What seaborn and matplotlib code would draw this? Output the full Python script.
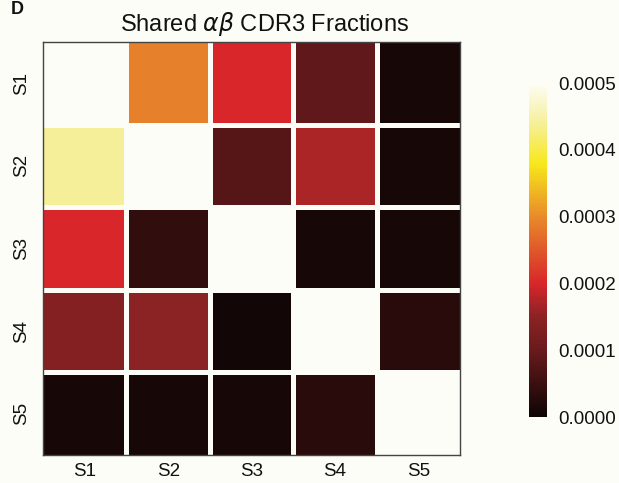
import numpy as np
import pandas as pd
import matplotlib
matplotlib.use("Agg")
import matplotlib.pyplot as plt
import seaborn as sns
from matplotlib.colors import LinearSegmentedColormap

samples = ["S1", "S2", "S3", "S4", "S5"]
row_S1 = [0.00050, 0.00029, 0.00020, 0.00009, 0.00001]
row_S2 = [0.00044, 0.00050, 0.00008, 0.00017, 0.00001]
row_S3 = [0.00020, 0.00004, 0.00050, 0.00001, 0.00001]
row_S4 = [0.00014, 0.00015, 0.000005, 0.00050, 0.00003]
row_S5 = [0.00001, 0.00001, 0.00001, 0.00003, 0.00050]
cbar_ticks = [0.0, 0.0001, 0.0002, 0.0003, 0.0004, 0.0005]

df = pd.DataFrame([row_S1, row_S2, row_S3, row_S4, row_S5], index=samples, columns=samples)

bg = "#fdfdf7"
cmap = LinearSegmentedColormap.from_list(
    "shared",
    [(0.0, "#0e0505"), (0.2, "#6a1a1c"), (0.3, "#8c2224"), (0.4, "#d8262a"),
     (0.6, "#e98a2a"), (0.76, "#f7e81c"), (0.88, "#f6ef98"), (1.0, bg)])

sns.set_style("white")
plt.rcParams['font.family'] = ['Liberation Sans', 'DejaVu Sans']
plt.rcParams['text.color'] = '#111111'
plt.rcParams['xtick.color'] = '#111111'
plt.rcParams['ytick.color'] = '#111111'
plt.rcParams['mathtext.fontset'] = 'dejavusans'

fig = plt.figure(figsize=(6.19, 4.83), dpi=100, facecolor=bg)
ax = fig.add_axes([0.0695, 0.058, 0.674, 0.855])
cax = fig.add_axes([0.855, 0.1366, 0.029, 0.6915])

sns.heatmap(df, ax=ax, cbar_ax=cax, cmap=cmap, vmin=0, vmax=0.0005,
            linewidths=0,
            cbar_kws={"ticks": cbar_ticks, "format": "%.4f"})
for i in range(1, len(samples)):
    ax.axhline(i, color=bg, lw=3.6)
    ax.axvline(i, color=bg, lw=3.6)
ax.set_facecolor(bg)
for s in ax.spines.values():
    s.set_visible(True)
    s.set_color("#444444")
    s.set_linewidth(1.0)
    s.set_zorder(5)
ax.tick_params(axis='both', length=0, labelsize=13.5, pad=9)
ax.tick_params(axis='x', pad=6)
ax.set_yticklabels(samples, rotation=90, va='center')
ax.set_xticklabels(samples, rotation=0)
ax.set_title(r"Shared $\alpha\beta$ CDR3 Fractions", fontsize=17, pad=8, x=0.53)
cax.tick_params(length=0, labelsize=13.5, pad=8)
for s in cax.spines.values():
    s.set_visible(False)
fig.text(0.018, 0.998, "D", fontsize=13, fontweight='bold', va='top', ha='left')
fig.savefig("out.png", dpi=100, facecolor=bg)
